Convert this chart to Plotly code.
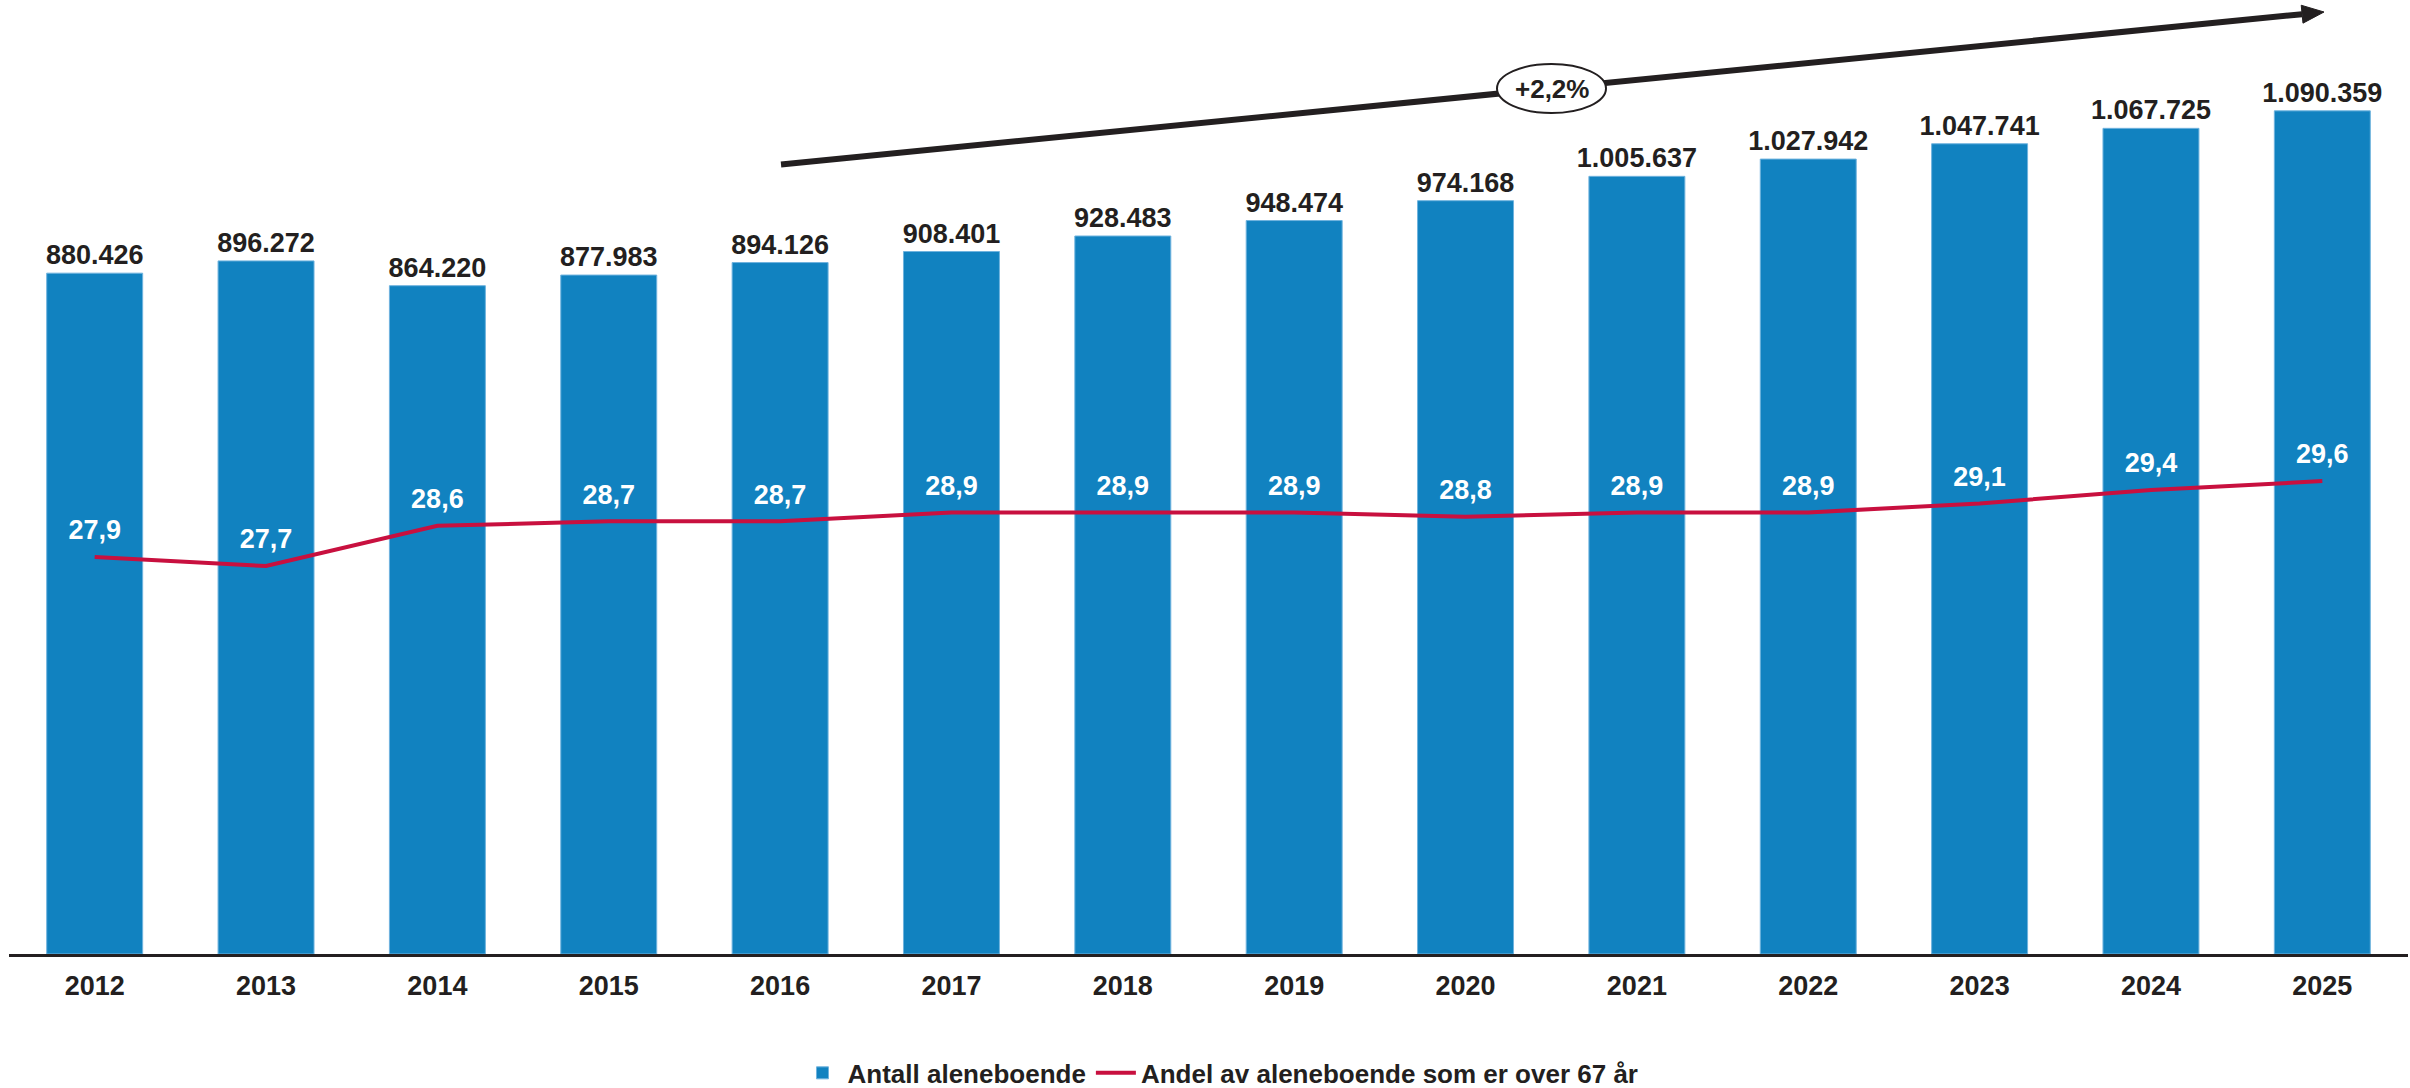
import plotly.graph_objects as go

# Data
years = ["2012", "2013", "2014", "2015", "2016", "2017", "2018",
         "2019", "2020", "2021", "2022", "2023", "2024", "2025"]
antall_aleneboende = [880426, 896272, 864220, 877983, 894126, 908401, 928483,
                      948474, 974168, 1005637, 1027942, 1047741, 1067725, 1090359]
andel_over_67 = [27.9, 27.7, 28.6, 28.7, 28.7, 28.9, 28.9,
                 28.9, 28.8, 28.9, 28.9, 29.1, 29.4, 29.6]
growth_label = "+2,2%"

W, H = 2410, 1088
M_L, M_R, M_T, M_B = 9, 2, 10, 134
PLOT_W = W - M_L - M_R
PLOT_H = H - M_T - M_B

BLUE = "#1182C0"
RED = "#C8103F"
DARK = "#231F20"
FONT = "Liberation Sans, Arial, Helvetica, sans-serif"


def px(x):
    """Horizontal pixel position -> paper coordinate."""
    return (x - M_L) / PLOT_W


def py(y):
    """Vertical pixel position -> paper coordinate."""
    return (H - M_B - y) / PLOT_H


fig = go.Figure()

fig.add_trace(go.Bar(
    x=years,
    y=antall_aleneboende,
    name="Antall aleneboende",
    marker=dict(color=BLUE, line=dict(color="#6FB3DE", width=1)),
    texttemplate="%{y:,}",
    textposition="outside",
    constraintext="none",
    cliponaxis=False,
    textfont=dict(family=FONT, size=27, color=DARK, weight="bold"),
    hoverinfo="skip",
))

# Transparent markers only set the spacing between the line and its labels
fig.add_trace(go.Scatter(
    x=years,
    y=andel_over_67,
    name="Andel av aleneboende som er over 67 år",
    yaxis="y2",
    mode="lines+markers+text",
    line=dict(color=RED, width=4),
    marker=dict(size=16, color="rgba(0,0,0,0)"),
    texttemplate="%{y:.1f}",
    textposition="top center",
    textfont=dict(family=FONT, size=27, color="white", weight="bold"),
    cliponaxis=False,
    hoverinfo="skip",
))

# Trend arrow with the growth label in an ellipse
x0, y0 = 781, 164.5
tip_x, tip_y = 2324, 12
base_x, base_y = 2302.1, 14.2
nx, ny = 0.0984, 0.9952
hw = 9
shapes = [
    dict(type="line", xref="paper", yref="paper",
         x0=px(x0), y0=py(y0), x1=px(base_x), y1=py(base_y),
         line=dict(color=DARK, width=6), layer="above"),
    dict(type="path", xref="paper", yref="paper",
         path=(f"M {px(tip_x)} {py(tip_y)} "
               f"L {px(base_x + hw * nx)} {py(base_y + hw * ny)} "
               f"L {px(base_x - hw * nx)} {py(base_y - hw * ny)} Z"),
         fillcolor=DARK, line=dict(color=DARK, width=1), layer="above"),
    dict(type="circle", xref="paper", yref="paper",
         x0=px(1497), x1=px(1606), y0=py(113), y1=py(64),
         fillcolor="white", line=dict(color=DARK, width=2), layer="above"),
]

annotations = [
    dict(xref="paper", yref="paper", x=px(1551.5), y=py(88.5),
         text=growth_label, showarrow=False,
         font=dict(family=FONT, size=26, color=DARK, weight="bold"),
         xanchor="center", yanchor="middle"),
]

fig.update_layout(
    width=W, height=H,
    margin=dict(l=M_L, r=M_R, t=M_T, b=M_B, pad=0, autoexpand=False),
    paper_bgcolor="white",
    plot_bgcolor="white",
    separators=",.",
    bargap=0.44,
    showlegend=True,
    legend=dict(
        orientation="h", x=0.505, xanchor="center",
        y=-0.126, yanchor="middle",
        font=dict(family=FONT, size=26, color=DARK, weight="bold"),
        itemwidth=40, traceorder="normal",
    ),
    xaxis=dict(
        type="category", range=[-0.5, 13.5],
        showline=True, linecolor=DARK, linewidth=3,
        showgrid=False, zeroline=False, ticks="",
        tickfont=dict(family=FONT, size=27, color=DARK, weight="bold"),
        ticklabelstandoff=6,
    ),
    yaxis=dict(range=[0, PLOT_H / 7.733e-4], visible=False,
               showgrid=False, zeroline=False),
    yaxis2=dict(range=[19.02, 40.14], overlaying="y", side="right",
                visible=False, showgrid=False, zeroline=False),
    shapes=shapes,
    annotations=annotations,
)

fig.write_html("out.html")
